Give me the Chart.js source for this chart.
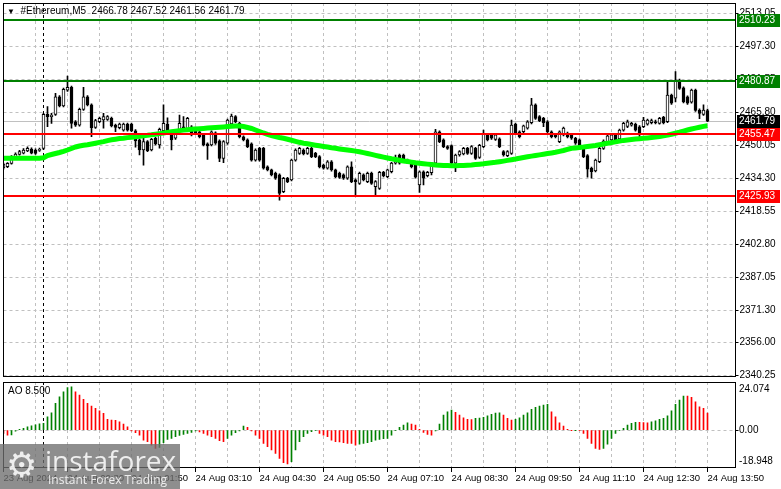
<!DOCTYPE html>
<html>
<head>
<meta charset="utf-8">
<script src="https://cdn.jsdelivr.net/npm/chart.js@4.4.1/dist/chart.umd.min.js"></script>
<style>
  body { margin: 0; background: #fff; }
  #wrap { position: relative; width: 781px; height: 489px; overflow: hidden; background: #fff;
          font-family: "Liberation Sans", Arial, sans-serif; }
  #main { position: absolute; left: 0; top: 0; }
  #ao { position: absolute; left: 0; top: 380px; }
  #title { position: absolute; left: 7px; top: 5px; font-size: 10px; color: #000; white-space: pre; }
  #title .tri { font-size: 8px; vertical-align: 0px; }
  #aoTitle { position: absolute; left: 8px; top: 385px; font-size: 10px; color: #000; white-space: pre; }
  #wm { position: absolute; left: 0; top: 444px; width: 180px; height: 45px; background: rgba(110,110,110,0.78); }
  #wm span { position: absolute; color: rgba(255,255,255,0.85); white-space: pre; }
  #wm .gear { left: 6px; top: 2px; font-size: 35px; line-height: 38px; font-family: "DejaVu Sans", sans-serif; }
  #wm .big { left: 45px; top: 0px; font-size: 28px; line-height: 32px; font-family: "Open Sans", sans-serif; }
  #wm .small { left: 48px; top: 29px; font-size: 12px; line-height: 14px; font-family: "Open Sans", sans-serif; }
</style>
</head>
<body>
<div id="wrap">
  <canvas id="main" width="781" height="380"></canvas>
  <canvas id="ao" width="781" height="109"></canvas>
  <div id="title"></div>
  <div id="aoTitle"></div>
  <div id="wm"><span class="gear">⚙</span><span class="big">instaforex</span><span class="small">Instant Forex Trading</span></div>
</div>
<script>
// bar time labels, one every 16 bars (M5)
var timeTicks = ["23 Aug 2024", "24 Aug 00:30", "24 Aug 01:50", "24 Aug 03:10", "24 Aug 04:30", "24 Aug 05:50",
                 "24 Aug 07:10", "24 Aug 08:30", "24 Aug 09:50", "24 Aug 11:10", "24 Aug 12:30", "24 Aug 13:50"];
var barsPerTick = 16;
var slotCount = 184;   // 177 bars + empty room on the right
var dayStartBar = 10;  // 24 Aug 00:00

var priceTicks = [2513.05, 2497.30, 2481.55, 2465.80, 2450.05, 2434.30, 2418.55, 2402.80, 2387.05, 2371.30, 2356.00, 2340.25];
var aoTicks = [24.074, 0, -18.948];

var greenLevels = [2510.23, 2480.87];
var redLevels = [2455.47, 2425.93];
var bidPrice = 2461.79;

var open = [
  2439.4,2440.0,2441.6,2444.8,2445.9,2446.5,2447.6,2448.4,2448.0,2447.8,
  2448.8,2465.0,2463.9,2465.0,2473.4,2469.0,2476.6,2477.9,2461.5,2459.9,
  2467.4,2473.4,2469.5,2458.8,2461.5,2462.3,2462.6,2463.1,2459.9,2458.6,
  2457.5,2460.4,2460.4,2457.2,2452.8,2448.0,2452.0,2448.0,2453.6,2450.4,
  2457.2,2460.4,2456.7,2453.6,2457.0,2459.1,2457.5,2459.1,2458.4,2456.7,
  2455.2,2450.9,2450.4,2456.2,2452.4,2444.0,2451.2,2460.4,2463.9,2460.7,
  2454.3,2452.8,2450.9,2443.2,2448.8,2448.8,2440.0,2438.5,2436.9,2436.1,
  2428.1,2434.5,2433.7,2443.2,2446.4,2448.0,2446.4,2448.8,2446.4,2444.8,
  2440.8,2439.3,2442.4,2438.5,2436.9,2436.1,2434.5,2440.0,2433.7,2432.1,
  2436.1,2432.9,2436.9,2430.5,2429.7,2437.3,2435.3,2437.6,2441.7,2445.6,
  2445.6,2443.2,2441.7,2441.7,2431.3,2437.6,2435.7,2437.2,2441.7,2456.7,
  2452.8,2449.6,2450.1,2441.7,2445.6,2446.1,2448.8,2446.4,2448.8,2444.5,
  2449.6,2455.2,2455.2,2453.1,2453.3,2447.2,2445.3,2446.4,2460.4,2456.7,
  2456.7,2458.4,2461.0,2469.5,2463.9,2463.1,2461.5,2456.7,2455.2,2452.0,
  2455.2,2456.0,2455.5,2453.6,2452.8,2448.8,2445.3,2439.3,2438.0,2442.4,
  2448.8,2452.0,2452.8,2455.2,2453.3,2457.5,2459.2,2459.9,2460.3,2459.1,
  2459.1,2460.3,2461.0,2461.5,2460.7,2463.6,2461.5,2474.2,2472.7,2481.4,
  2477.7,2473.4,2470.8,2476.6,2467.1,2465.0,2466.78
];
var high = [
  2441.8,2442.0,2445.3,2446.6,2447.8,2448.7,2449.5,2449.0,2448.5,2448.9,
  2465.5,2468.7,2465.5,2475.1,2474.0,2477.6,2483.3,2478.5,2462.0,2468.0,
  2477.9,2474.0,2470.0,2462.6,2463.7,2465.5,2464.4,2463.7,2460.4,2460.9,
  2460.9,2460.9,2460.9,2457.7,2453.3,2454.3,2452.5,2453.6,2454.1,2458.4,
  2469.5,2463.4,2457.2,2456.7,2464.7,2463.9,2463.6,2459.6,2458.9,2457.2,
  2455.7,2451.4,2457.2,2456.7,2452.9,2452.5,2462.8,2465.2,2464.4,2461.2,
  2454.8,2453.3,2451.4,2448.5,2449.3,2449.3,2440.5,2438.9,2437.4,2436.6,
  2435.0,2435.0,2443.7,2448.5,2449.3,2448.5,2449.3,2449.3,2446.9,2445.3,
  2441.3,2442.9,2442.9,2438.9,2437.4,2436.6,2440.5,2442.4,2434.2,2437.4,
  2436.6,2437.4,2437.4,2433.4,2437.8,2437.8,2438.9,2442.1,2445.6,2446.1,
  2446.1,2443.7,2442.1,2442.1,2438.1,2438.1,2437.8,2442.1,2457.9,2457.2,
  2453.3,2450.1,2450.5,2446.1,2447.7,2449.3,2449.3,2450.1,2449.3,2450.7,
  2457.5,2455.7,2455.7,2455.7,2453.8,2447.7,2447.7,2462.3,2460.9,2457.2,
  2459.9,2462.0,2472.7,2470.0,2464.4,2463.6,2462.0,2457.2,2455.7,2457.2,
  2458.9,2456.5,2456.0,2454.1,2453.3,2449.3,2445.8,2439.8,2443.7,2449.3,
  2452.8,2455.3,2455.7,2455.7,2458.0,2461.2,2462.3,2461.2,2460.8,2459.6,
  2463.6,2462.8,2462.8,2462.3,2463.6,2464.1,2480.6,2474.7,2485.4,2481.9,
  2478.2,2473.9,2477.1,2477.1,2467.6,2469.5,2467.52
];
var low = [
  2438.9,2439.6,2441.2,2444.3,2445.5,2446.1,2447.2,2446.1,2445.9,2447.3,
  2448.2,2459.1,2460.7,2464.5,2468.5,2468.5,2476.0,2458.4,2459.3,2459.4,
  2466.9,2469.0,2454.3,2458.3,2461.0,2458.4,2462.1,2459.0,2456.7,2458.1,
  2457.0,2457.0,2456.7,2449.4,2445.6,2440.8,2447.2,2447.5,2450.4,2448.9,
  2456.7,2456.2,2448.0,2453.1,2456.5,2456.7,2457.0,2454.7,2455.5,2453.8,
  2449.9,2443.5,2449.9,2450.7,2442.4,2441.9,2450.7,2459.9,2461.0,2453.8,
  2452.3,2449.1,2442.7,2442.7,2442.7,2438.8,2438.0,2435.6,2434.0,2424.1,
  2427.6,2432.4,2433.2,2442.7,2445.9,2445.7,2445.9,2444.3,2444.3,2439.5,
  2438.8,2438.8,2437.9,2434.8,2434.4,2434.0,2434.0,2432.4,2425.7,2431.6,
  2433.2,2432.4,2431.6,2426.5,2429.2,2435.2,2434.8,2437.1,2441.2,2441.2,
  2442.7,2441.5,2439.5,2434.5,2427.8,2431.3,2435.2,2436.1,2441.2,2451.5,
  2449.1,2448.3,2441.2,2437.6,2445.1,2445.6,2445.9,2445.9,2443.5,2444.0,
  2449.1,2452.3,2453.1,2452.6,2449.1,2445.1,2444.8,2445.9,2455.5,2453.8,
  2456.2,2457.9,2460.5,2462.6,2461.5,2459.1,2456.2,2453.8,2453.8,2451.5,
  2454.7,2453.8,2453.1,2450.7,2448.3,2444.3,2435.0,2434.5,2437.5,2441.9,
  2448.3,2451.5,2452.3,2452.3,2452.8,2457.0,2458.7,2459.4,2457.0,2454.3,
  2458.6,2459.8,2460.5,2460.5,2460.3,2460.5,2461.0,2469.8,2470.9,2476.9,
  2470.5,2469.8,2470.3,2466.4,2463.0,2464.5,2461.56
];
var close = [
  2441.3,2441.6,2444.8,2446.0,2447.2,2448.0,2448.8,2446.5,2446.4,2448.3,
  2465.0,2463.9,2464.7,2473.4,2469.0,2477.0,2477.9,2460.7,2459.9,2467.4,
  2473.4,2469.5,2458.6,2462.0,2463.1,2463.9,2463.9,2459.5,2458.8,2460.4,
  2460.4,2457.5,2457.2,2452.3,2448.0,2452.0,2447.7,2453.1,2450.9,2457.9,
  2460.7,2456.7,2452.8,2456.2,2460.7,2457.2,2463.1,2455.2,2456.0,2454.3,
  2450.4,2449.9,2456.7,2451.2,2444.0,2452.0,2462.3,2464.2,2461.5,2454.3,
  2452.8,2449.6,2443.2,2448.0,2443.2,2439.3,2438.5,2436.1,2434.5,2427.3,
  2434.5,2432.9,2443.2,2448.0,2448.8,2446.2,2448.8,2444.8,2444.8,2440.0,
  2439.3,2442.4,2438.5,2435.3,2434.9,2434.5,2440.0,2432.9,2432.9,2436.9,
  2433.7,2436.9,2432.1,2432.9,2437.3,2435.7,2438.5,2441.7,2444.0,2441.7,
  2443.2,2442.0,2440.0,2435.0,2437.6,2434.5,2437.3,2441.7,2456.7,2452.0,
  2449.6,2448.8,2441.7,2445.6,2447.2,2448.8,2446.4,2449.6,2444.0,2450.2,
  2456.0,2452.8,2453.6,2455.2,2449.6,2445.6,2447.2,2459.9,2456.0,2454.3,
  2459.5,2461.5,2469.5,2463.1,2462.0,2461.0,2456.7,2454.3,2454.3,2456.7,
  2458.4,2454.3,2453.6,2451.2,2448.8,2444.8,2438.9,2437.6,2443.2,2448.8,
  2452.3,2454.8,2455.2,2452.8,2457.5,2460.7,2461.5,2460.7,2457.5,2456.0,
  2462.3,2462.3,2462.0,2461.0,2463.1,2461.0,2474.2,2470.3,2481.4,2477.4,
  2471.0,2470.3,2476.6,2466.9,2465.5,2467.1,2461.79
];
// moving average as drawn on the chart
var maLine = [
  2444.03,2444.03,2444.03,2444.03,2444.03,2444.03,2444.03,2444.03,2444.03,2444.03,
  2444.27,2445.37,2445.85,2446.32,2446.80,2447.37,2447.99,2448.71,2449.43,2449.90,
  2450.24,2450.52,2450.86,2451.24,2451.62,2452.00,2452.48,2452.86,2453.15,2453.44,
  2453.63,2453.91,2454.10,2454.34,2454.58,2454.82,2455.01,2455.25,2455.54,2455.82,
  2456.11,2456.40,2456.68,2456.97,2457.25,2457.49,2457.68,2457.88,2458.02,2458.16,
  2458.30,2458.45,2458.59,2458.73,2458.88,2459.02,2459.16,2459.31,2459.45,2459.45,
  2459.21,2458.73,2458.26,2457.54,2456.83,2456.11,2455.49,2454.92,2454.44,2453.96,
  2453.58,2453.15,2452.67,2452.15,2451.67,2451.24,2450.95,2450.62,2450.29,2450.00,
  2449.71,2449.43,2449.09,2448.81,2448.52,2448.23,2447.95,2447.71,2447.47,2447.14,
  2446.75,2446.32,2445.90,2445.46,2445.04,2444.61,2444.18,2443.79,2443.46,2443.13,
  2442.79,2442.51,2442.22,2441.93,2441.69,2441.46,2441.26,2441.07,2440.88,2440.74,
  2440.64,2440.55,2440.50,2440.50,2440.55,2440.64,2440.74,2440.84,2441.03,2441.22,
  2441.41,2441.65,2441.89,2442.12,2442.41,2442.70,2443.03,2443.37,2443.70,2444.08,
  2444.42,2444.75,2445.08,2445.37,2445.66,2445.99,2446.32,2446.61,2446.90,2447.33,
  2447.76,2448.28,2448.81,2449.00,2449.19,2449.38,2449.62,2449.86,2450.14,2450.52,
  2450.86,2451.19,2451.53,2451.86,2452.24,2452.58,2452.82,2453.01,2453.20,2453.39,
  2453.58,2453.77,2453.96,2454.15,2454.39,2454.73,2455.11,2455.54,2456.01,2456.49,
  2457.02,2457.54,2458.02,2458.45,2458.88,2459.26,2459.59
];
// Awesome Oscillator histogram
var aoValues = [
  -1.6,-2.5,-2.4,-0.5,0.4,0.9,1.7,2.1,2.6,3.1,
  3.4,6.7,8.7,13.4,16.7,19.2,21.3,21.7,19.2,17.5,
  15.4,13.4,12.05,10.9,9.7,8.4,5.4,5.0,4.9,4.2,
  3.05,1.7,-0.45,-1.3,-2.5,-5.0,-5.8,-7.5,-9.1,-8.6,
  -6.3,-4.6,-4.1,-3.3,-2.6,-2.1,-1.6,-1.1,-0.45,-0.95,
  -1.6,-2.5,-3.3,-4.1,-5.3,-5.8,-4.1,-2.5,-1.3,-0.45,
  2.05,1.4,-0.45,-2.5,-4.1,-6.6,-8.3,-9.95,-11.6,-14.1,
  -16.3,-16.95,-15.8,-9.95,-5.8,-3.3,-1.6,-0.8,-0.3,-1.6,
  -2.5,-3.3,-5.0,-5.8,-5.9,-6.3,-6.6,-6.7,-7.5,-7.0,
  -6.65,-6.3,-5.8,-5.0,-4.6,-4.3,-4.1,-2.5,-0.3,1.4,
  2.55,3.7,3.05,2.55,0.4,-1.1,-2.1,-2.5,-0.45,3.05,
  7.55,9.2,10.05,8.9,7.55,6.2,5.4,5.3,5.9,6.05,
  6.4,7.2,7.9,8.55,8.7,7.55,5.9,5.05,5.4,6.2,
  7.55,8.7,10.4,11.4,12.05,12.55,12.9,9.2,6.7,3.7,
  2.05,0.4,-0.1,-0.05,-0.3,-1.6,-4.1,-6.65,-9.1,-9.6,
  -9.1,-7.0,-4.1,-1.6,-0.3,0.9,2.55,3.4,3.9,3.85,
  3.8,3.7,4.2,4.7,5.4,5.9,7.2,9.7,12.9,15.05,
  17.05,17.0,16.4,14.2,11.7,10.9,8.5
];

var FONT = "'Liberation Sans', Arial, sans-serif";
var GRID = "#c0c0c0";

var categories = [];
for (var i = 0; i < slotCount; i++) categories.push(String(i));

var last = open.length - 1;
document.getElementById("title").innerHTML = '<span class="tri">▼</span>  #Ethereum,M5  ' +
  open[last].toFixed(2) + " " + high[last].toFixed(2) + " " + low[last].toFixed(2) + " " + close[last].toFixed(2);
document.getElementById("aoTitle").textContent = "AO " + aoValues[aoValues.length - 1].toFixed(3);

var wicks = low.map(function (l, i) { return [l, high[i]]; });
var bodies = open.map(function (o, i) { return [Math.min(o, close[i]), Math.max(o, close[i])]; });
var bodyColors = open.map(function (o, i) { return close[i] >= o ? "#ffffff" : "#000000"; });
var aoColors = aoValues.map(function (v, i) { return (i > 0 && v > aoValues[i - 1]) ? "#008000" : "#ff0000"; });

function vGrid(ctx) {
  return (ctx.index > 0 && ctx.index % 8 === 0 && ctx.index <= last) ? GRID : "transparent";
}

function drawSeparator(chart) {
  var c = chart.ctx, a = chart.chartArea;
  var x = Math.round(chart.scales.x.getPixelForValue(dayStartBar) - 0.5) + 0.5;
  c.save();
  c.strokeStyle = "#000";
  c.lineWidth = 1;
  c.setLineDash([3, 3]);
  c.beginPath();
  c.moveTo(x, a.top);
  c.lineTo(x, a.bottom);
  c.stroke();
  c.restore();
}

function drawFrame(chart) {
  var c = chart.ctx, a = chart.chartArea;
  c.save();
  c.strokeStyle = "#000";
  c.lineWidth = 1;
  c.strokeRect(Math.round(a.left) - 0.5, Math.round(a.top) + 0.5, Math.round(a.right - a.left), Math.round(a.bottom - a.top) - 1);
  c.restore();
}

function priceBox(c, y, text, bg) {
  c.fillStyle = bg;
  c.fillRect(737, Math.round(y) - 6, 43, 13);
  c.fillStyle = "#fff";
  c.font = "10px " + FONT;
  c.textBaseline = "middle";
  c.textAlign = "left";
  c.fillText(text, 739, Math.round(y) + 0.5);
}

var mainPlugin = {
  id: "mainPanel",
  beforeDatasetsDraw: function (chart) {
    var c = chart.ctx, a = chart.chartArea, y = chart.scales.y;
    var by = Math.round(y.getPixelForValue(bidPrice)) + 0.5;
    c.save();
    c.strokeStyle = "#c0c0c0";
    c.lineWidth = 1;
    c.beginPath();
    c.moveTo(a.left, by);
    c.lineTo(a.right, by);
    c.stroke();
    c.restore();
    drawSeparator(chart);
  },
  afterDatasetsDraw: function (chart) {
    var c = chart.ctx, a = chart.chartArea, y = chart.scales.y;
    c.save();
    greenLevels.forEach(function (v) {
      c.fillStyle = "#008000";
      c.fillRect(a.left, Math.round(y.getPixelForValue(v)) - 1, a.right - a.left, 2);
    });
    redLevels.forEach(function (v) {
      c.fillStyle = "#ff0000";
      c.fillRect(a.left, Math.round(y.getPixelForValue(v)) - 1, a.right - a.left, 2);
    });
    c.restore();
    drawFrame(chart);
  },
  afterDraw: function (chart) {
    var c = chart.ctx, y = chart.scales.y;
    c.save();
    greenLevels.forEach(function (v) { priceBox(c, y.getPixelForValue(v), v.toFixed(2), "#008000"); });
    priceBox(c, y.getPixelForValue(bidPrice), bidPrice.toFixed(2), "#000000");
    redLevels.forEach(function (v) { priceBox(c, y.getPixelForValue(v), v.toFixed(2), "#ff0000"); });
    c.restore();
  }
};

var aoPlugin = {
  id: "aoPanel",
  beforeDatasetsDraw: function (chart) { drawSeparator(chart); },
  afterDatasetsDraw: function (chart) { drawFrame(chart); },
  afterDraw: function (chart) {
    var c = chart.ctx, y = chart.scales.y;
    c.save();
    c.fillStyle = "#000";
    c.font = "10px " + FONT;
    c.textBaseline = "middle";
    c.textAlign = "left";
    aoTicks.forEach(function (v, i) {
      var py = y.getPixelForValue(v);
      if (i === 0) py += 7;
      if (i === aoTicks.length - 1) py -= 7;
      c.fillText(v === 0 ? "0.00" : String(v), 739, py);
    });
    c.restore();
  }
};

function noPad(s) { s.paddingTop = 0; s.paddingBottom = 0; s.paddingLeft = 0; s.paddingRight = 0; }

new Chart(document.getElementById("main"), {
  data: {
    labels: categories,
    datasets: [{
      type: "line",
      data: maLine,
      borderColor: "#00ff00",
      borderWidth: 5,
      pointRadius: 0,
      tension: 0,
      order: 1
    }, {
      type: "bar",
      data: bodies,
      backgroundColor: bodyColors,
      borderColor: "#000000",
      borderWidth: 1,
      borderSkipped: false,
      barThickness: 3,
      minBarLength: 1,
      grouped: false,
      order: 2
    }, {
      type: "bar",
      data: wicks,
      backgroundColor: "#000000",
      barThickness: 1,
      grouped: false,
      order: 3
    }]
  },
  options: {
    responsive: false,
    animation: false,
    layout: { padding: { left: 3.5, right: 0, top: 3, bottom: 3 } },
    plugins: { legend: { display: false }, tooltip: { enabled: false } },
    scales: {
      x: {
        type: "category",
        offset: false,
        ticks: { display: false },
        grid: { offset: false, color: vGrid, drawTicks: false },
        border: { display: false, dash: [3, 3] },
        afterFit: function (s) { s.height = 0; noPad(s); }
      },
      y: {
        position: "right",
        min: 2339.65,
        max: 2518.16,
        afterBuildTicks: function (s) { s.ticks = priceTicks.map(function (v) { return { value: v }; }); },
        ticks: {
          autoSkip: false,
          color: "#000",
          padding: 1,
          font: { size: 10, family: FONT },
          callback: function (v) { return Number(v).toFixed(2); }
        },
        grid: { color: GRID, tickColor: "#000", tickLength: 3, tickBorderDash: [] },
        border: { display: false, dash: [3, 3] },
        afterFit: function (s) { s.width = 45.5; noPad(s); }
      }
    }
  },
  plugins: [mainPlugin]
});

new Chart(document.getElementById("ao"), {
  type: "bar",
  data: {
    labels: categories,
    datasets: [{
      data: aoValues,
      backgroundColor: aoColors,
      barThickness: 1,
      grouped: false
    }]
  },
  options: {
    responsive: false,
    animation: false,
    layout: { padding: { left: 3.5, right: 0, top: 2, bottom: 0 } },
    plugins: { legend: { display: false }, tooltip: { enabled: false } },
    scales: {
      x: {
        type: "category",
        offset: false,
        ticks: {
          autoSkip: false,
          maxRotation: 0,
          minRotation: 0,
          align: "start",
          padding: 1,
          color: "#000",
          font: { size: 9.5, family: FONT },
          callback: function (v, i) {
            return (i % barsPerTick === 0 && i / barsPerTick < timeTicks.length) ? timeTicks[i / barsPerTick] : "";
          }
        },
        grid: {
          offset: false,
          color: vGrid,
          tickLength: 4,
          tickBorderDash: [],
          tickColor: function (ctx) {
            return (ctx.index % barsPerTick === 0 && ctx.index / barsPerTick < timeTicks.length) ? "#000" : "transparent";
          }
        },
        border: { display: false, dash: [3, 3] },
        afterFit: function (s) { s.height = 21; noPad(s); }
      },
      y: {
        position: "right",
        min: -18.948,
        max: 24.074,
        afterBuildTicks: function (s) { s.ticks = aoTicks.map(function (v) { return { value: v }; }); },
        ticks: { display: false },
        grid: {
          color: function (ctx) { return ctx.tick && ctx.tick.value === 0 ? GRID : "transparent"; },
          tickColor: function (ctx) { return ctx.tick && ctx.tick.value === 0 ? "#000" : "transparent"; },
          tickLength: 3,
          tickBorderDash: []
        },
        border: { display: false, dash: [3, 3] },
        afterFit: function (s) { s.width = 45.5; noPad(s); }
      }
    }
  },
  plugins: [aoPlugin]
});
</script>
</body>
</html>
